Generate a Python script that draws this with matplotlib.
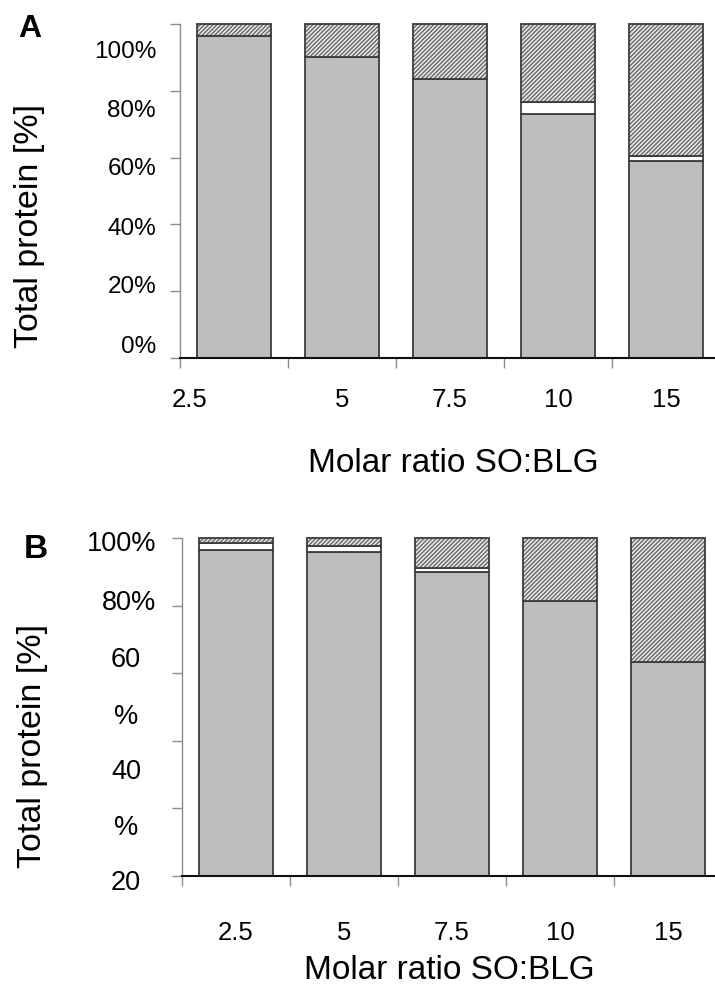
import numpy as np
import matplotlib
matplotlib.use("Agg")
import matplotlib.pyplot as plt

plt.rcParams['font.family'] = ['Liberation Sans', 'DejaVu Sans']
plt.rcParams['hatch.linewidth'] = 1.1

# ---------------- data ----------------
categories = ["2.5", "5", "7.5", "10", "15"]

# Panel A (stacked percentages, bottom -> top)
a_gray = [96.4, 90.1, 83.5, 73.1, 59.0]
a_white = [0.0, 0.0, 0.0, 3.5, 1.5]
a_hatched = [3.6, 9.9, 16.5, 23.4, 39.5]
a_ylabels = ["100%", "80%", "60%", "40%", "20%", "0%"]

# Panel B
b_gray = [96.4, 95.8, 90.0, 81.4, 63.3]
b_white = [2.1, 1.8, 1.1, 0.0, 0.0]
b_hatched = [1.5, 2.4, 8.9, 18.6, 36.7]
b_ylabels = ["100%", "80%", "60", "%", "40", "%", "20"]

yticks = [0, 20, 40, 60, 80, 100]

# ---------------- style ----------------
GRAY = "#bdbdbd"
EDGE = "#3c3c3c"
HATCH = "#6e6e6e"
SPINE = "#8c8c8c"
W = 0.685

W_PX, H_PX = 715, 987
fig = plt.figure(figsize=(W_PX / 100, H_PX / 100), dpi=100)


def px_axes(left, top, right, bottom):
    return fig.add_axes([left / W_PX, 1 - bottom / H_PX,
                         (right - left) / W_PX, (bottom - top) / H_PX])


def draw(ax, gray, white, hatched):
    x = np.arange(len(categories))
    gray = np.asarray(gray)
    white = np.asarray(white)
    hatched = np.asarray(hatched)
    ax.bar(x, gray, width=W, color=GRAY, edgecolor=EDGE, linewidth=1.3,
           clip_on=False, zorder=2)
    ax.bar(x, white, bottom=gray, width=W, color="white", edgecolor=EDGE,
           linewidth=1.3, clip_on=False, zorder=2)
    ax.bar(x, hatched, bottom=gray + white, width=W, color="#f0f0f0",
           edgecolor=HATCH, hatch="////////", linewidth=0, clip_on=False, zorder=2)
    ax.bar(x, hatched, bottom=gray + white, width=W, color="none",
           edgecolor=EDGE, linewidth=1.3, clip_on=False, zorder=3)

    n = len(categories)
    ax.set_xlim(-0.5, -0.5 + (715 - 180) / 108)
    ax.set_ylim(0, 100)
    for s in ("top", "right"):
        ax.spines[s].set_visible(False)
    ax.spines["left"].set_color(SPINE)
    ax.spines["left"].set_linewidth(1.0)
    ax.spines["bottom"].set_color("#111111")
    ax.spines["bottom"].set_linewidth(1.5)
    ax.set_yticks(yticks)
    ax.set_yticklabels([])
    ax.tick_params(axis="y", which="major", length=7, width=1.0, color=SPINE,
                   direction="out")
    ax.set_xticks(np.arange(n) - 0.5)
    ax.set_xticklabels([])
    ax.tick_params(axis="x", which="major", length=7, width=1.0, color=SPINE,
                   direction="out")
    return x


# ---------------- Panel A ----------------
axA = px_axes(180, 25, 715, 359)
xA = draw(axA, a_gray, a_white, a_hatched)
xlabA = xA.astype(float)
xlabA[0] = -0.41
axA.set_xticks(xlabA, minor=True)
axA.set_xticklabels(categories, minor=True, fontsize=18.5)
axA.tick_params(axis="x", which="minor", length=0, pad=21)
ylabA_pos = [91.9, 74.3, 56.9, 38.9, 21.6, 3.6]
trA = axA.get_yaxis_transform()
for lab, yp in zip(a_ylabels, ylabA_pos):
    axA.text(-(180 - 156) / 535, yp, lab, transform=trA, ha="right",
             va="center", fontsize=17.5)
axA.text((453 - 180) / 535, (359 - 464) / 334, "Molar ratio SO:BLG",
         transform=axA.transAxes, ha="center", va="center", fontsize=24)
fig.text(30 / W_PX, 1 - 226 / H_PX, "Total protein [%]", rotation=90,
         ha="center", va="center", fontsize=24.5)
fig.text(30 / W_PX, 1 - 29 / H_PX, "A", ha="center", va="center",
         fontsize=23, fontweight="bold")

# ---------------- Panel B ----------------
axB = px_axes(182, 539, 715, 877)
xB = draw(axB, b_gray, b_white, b_hatched)
axB.set_xlim(-0.5, -0.5 + (715 - 182) / 108)
axB.set_xticks(xB.astype(float), minor=True)
axB.set_xticklabels(categories, minor=True, fontsize=18.5)
axB.tick_params(axis="x", which="minor", length=0, pad=32)
ylabB_pos = [98.5, 81.1, 64.2, 47.3, 31.1, 14.5, -1.8]
trB = axB.get_yaxis_transform()
for lab, yp in zip(b_ylabels, ylabB_pos):
    if lab.endswith("%") and len(lab) > 1:
        axB.text(-(182 - 156) / 533, yp, lab, transform=trB, ha="right",
                 va="center", fontsize=19.5)
    else:
        axB.text(-(182 - 126) / 533, yp, lab, transform=trB, ha="center",
                 va="center", fontsize=19.5)
axB.text((449 - 182) / 533, (877 - 971) / 338, "Molar ratio SO:BLG",
         transform=axB.transAxes, ha="center", va="center", fontsize=24)
fig.text(33 / W_PX, 1 - 746 / H_PX, "Total protein [%]", rotation=90,
         ha="center", va="center", fontsize=24.5)
fig.text(36 / W_PX, 1 - 550 / H_PX, "B", ha="center", va="center",
         fontsize=24, fontweight="bold")

fig.savefig("out.png", dpi=100)
